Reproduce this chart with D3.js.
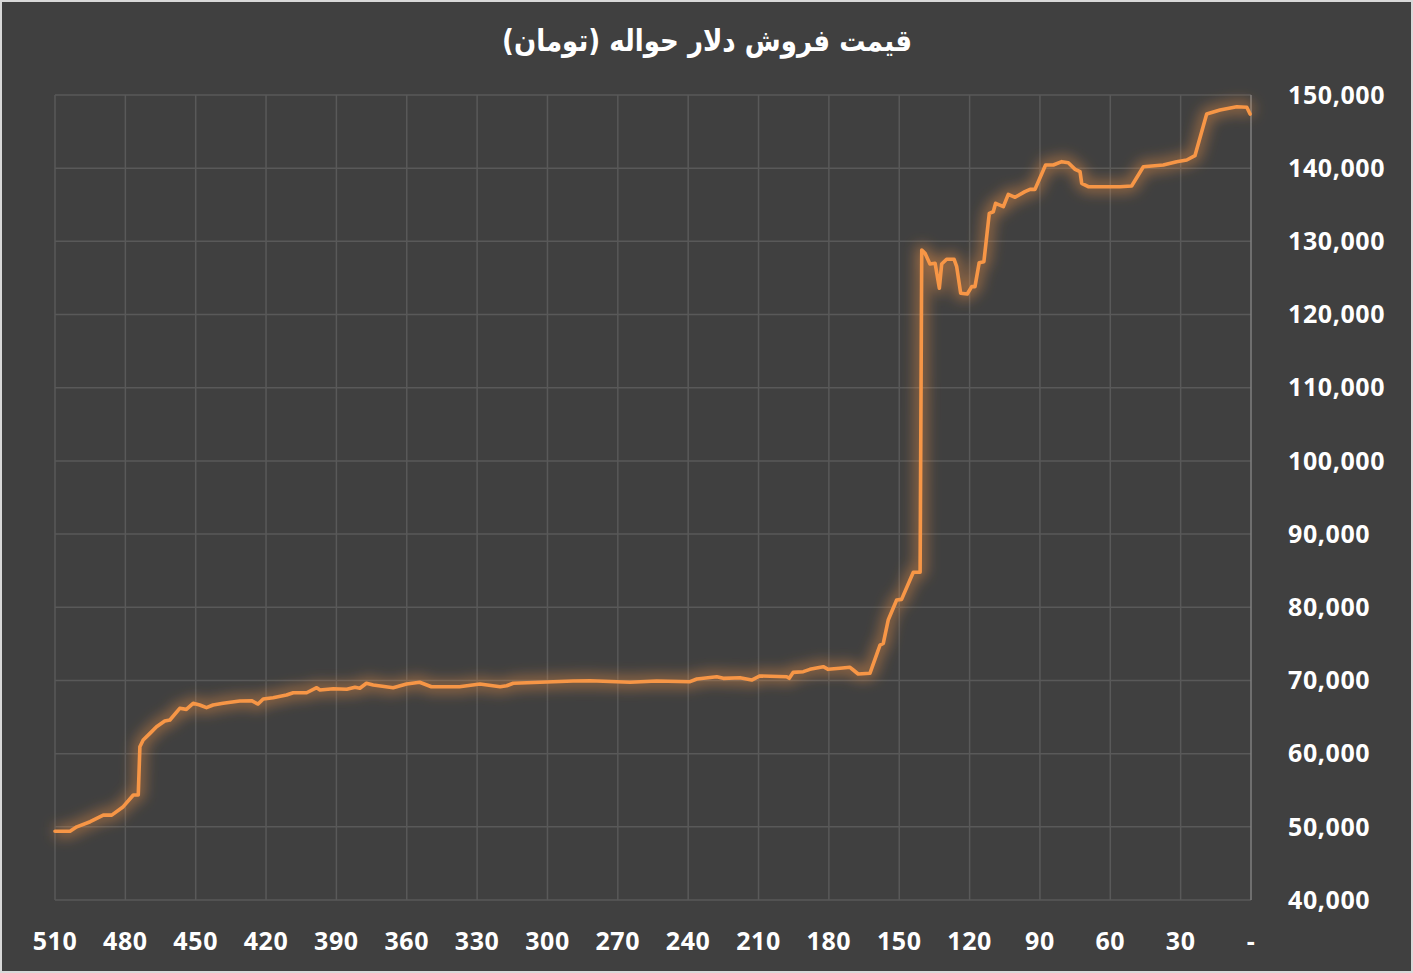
<!DOCTYPE html>
<html><head><meta charset="utf-8">
<script src="https://cdn.jsdelivr.net/npm/d3@7"></script>
<style>
html,body{margin:0;padding:0;background:#d9d9d9;}
svg{display:block;}
</style></head>
<body>
<svg id="chart" width="1413" height="973"></svg>
<script>
const title = "قیمت فروش دلار حواله (تومان)";
const xTicks = [510,480,450,420,390,360,330,300,270,240,210,180,150,120,90,60,30,0];
const yTicks = [40000,50000,60000,70000,80000,90000,100000,110000,120000,130000,140000,150000];
const days = [510,503.6,500.7,495,489.4,485.8,480.9,476.6,474.5,473.8,472.4,469.5,466.7,463.2,461,456.8,454,451.1,448.3,445.4,442.6,438.3,431.2,426.2,423.4,421.2,417,411.3,408.4,402.7,398.4,397,391.3,385.6,382.1,380,377.2,374.3,365.8,360.1,354.5,349.5,337.5,328.8,320.2,317.4,314.6,303.2,289,281.9,264.8,253.4,239.2,236.3,227.8,225,217.9,212.9,209.4,198,196.9,195.2,190.9,188.1,182.4,180.3,175.3,171,169.6,167.5,162.5,158.2,156.8,154.7,151.1,149,144,141.1,140.4,139,136.9,134.7,132.9,131.9,129.8,126.6,125.5,123.8,121,119.1,117.7,115.9,113.9,111.6,109.9,108.9,105.6,103.5,100.6,96.4,94.2,92.1,87.6,84.3,80.7,77.9,75,72.9,72.2,69.4,55.9,50.9,45.9,37.4,31.7,27.4,23.9,18.9,13.2,6.1,1.8,0.4];
const prices = [49400,49400,50000,50700,51600,51600,52750,54350,54350,60950,61860,62770,63680,64460,64600,66190,66050,66880,66650,66280,66650,66880,67190,67230,66780,67460,67640,68010,68320,68320,69010,68700,68870,68790,69060,68930,69610,69380,69010,69520,69750,69140,69140,69510,69140,69280,69610,69750,69920,69960,69750,69920,69830,70200,70510,70290,70380,70060,70610,70510,70290,71110,71200,71520,71880,71520,71660,71800,71430,70880,70980,74840,75070,78260,80990,81080,84780,84780,128820,128370,126910,127000,123590,126910,127550,127550,126540,122900,122810,123810,123810,127090,127230,133830,134050,135200,134740,136430,136020,136790,137110,137110,140430,140430,140890,140750,139840,139520,137930,137470,137470,137570,140200,140430,140890,141120,141710,147400,147950,148400,148320,147400];

(function(){
const svg = d3.select("#chart");
const W = 1413, H = 973;
svg.append("rect").attr("x",2).attr("y",2).attr("width",W-4).attr("height",H-4).attr("fill","#404040");

const pL = 55, pR = 1251, pT = 95, pB = 900;
const x = d3.scaleLinear().domain([510,0]).range([pL,pR]);
const y = d3.scaleLinear().domain([40000,150000]).range([pB,pT]);

const defs = svg.append("defs");
const f = defs.append("filter").attr("id","glow").attr("x","-10%").attr("y","-10%").attr("width","120%").attr("height","120%");
f.append("feGaussianBlur").attr("in","SourceGraphic").attr("stdDeviation",7).attr("result","b");

svg.append("g").selectAll("line").data(yTicks).join("line")
  .attr("x1",pL).attr("x2",pR).attr("y1",d=>y(d)).attr("y2",d=>y(d))
  .attr("stroke","#595959").attr("stroke-width",1.5);
svg.append("g").selectAll("line").data(xTicks).join("line")
  .attr("x1",d=>x(d)).attr("x2",d=>x(d)).attr("y1",pT).attr("y2",pB)
  .attr("stroke",d=>d===0?"#7f7f7f":"#595959").attr("stroke-width",1.5);

const data = days.map((d,i)=>({d, v:prices[i]}));
const line = d3.line().x(p=>x(p.d)).y(p=>y(p.v));
svg.append("path").datum(data).attr("d",line).attr("fill","none")
  .attr("stroke","#f79646").attr("stroke-width",11).attr("stroke-opacity",0.5)
  .attr("stroke-linejoin","round").attr("filter","url(#glow)");
svg.append("path").datum(data).attr("d",line).attr("fill","none")
  .attr("stroke","#f79646").attr("stroke-width",3.6)
  .attr("stroke-linejoin","round").attr("stroke-linecap","round");

const fmt = d3.format(",");
svg.append("g").selectAll("text").data(yTicks).join("text")
  .attr("x",1288).attr("y",d=>y(d)).attr("dy","0.35em")
  .attr("fill","#ffffff").attr("font-family","'Open Sans', sans-serif").attr("font-weight",700)
  .attr("font-size",25).attr("letter-spacing",0.6).text(d=>fmt(d));
svg.append("g").selectAll("text").data(xTicks).join("text")
  .attr("x",d=>x(d)).attr("y",941).attr("dy","0.35em").attr("text-anchor","middle")
  .attr("fill","#ffffff").attr("font-family","'Open Sans', sans-serif").attr("font-weight",700)
  .attr("font-size",25).attr("letter-spacing",0.6).text(d=>d===0?"-":d);

svg.append("text").attr("x",707).attr("y",40).attr("dy","0.35em").attr("text-anchor","middle")
  .attr("fill","#ffffff").attr("font-family","'DejaVu Sans', sans-serif").attr("font-weight","bold")
  .attr("font-size",30).attr("direction","rtl")
  .attr("textLength",410).attr("lengthAdjust","spacingAndGlyphs").text(title);
})();
</script>
</body></html>
